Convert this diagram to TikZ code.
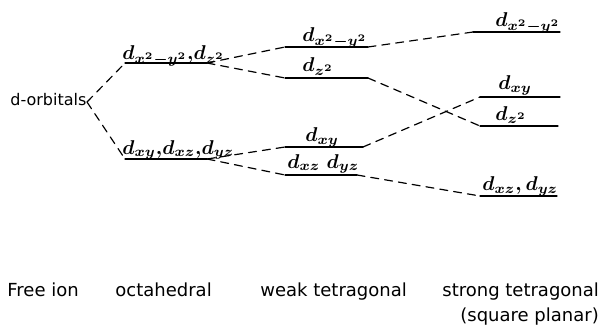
\documentclass[tikz,border=0pt]{standalone}
\usepackage{fontspec}
\setmainfont{DejaVu Sans}
\usetikzlibrary{positioning}
\newcommand{\orbd}[1]{d_{#1}}

\begin{document}
\begin{tikzpicture}[x=0.5pt,y=-0.5pt,line cap=round,line join=round,
  level/.style={line width=0.6pt},
  link/.style={line width=0.6pt,dash pattern=on 4pt off 3pt},
  orb/.style={anchor=base west,inner sep=0pt,font=\normalsize\boldmath},
  stage/.style={anchor=base west,inner sep=0pt,font=\fontsize{9}{11}\selectfont}]
  \useasboundingbox (0,0) rectangle (604,326);
  % free ion
  \node[stage,font=\fontsize{8}{10}\selectfont] (dorb) at (10,105) {d-orbitals};
  \coordinate (fan) at (87,102);
  % octahedral
  \coordinate (egL) at (125,63);   \coordinate (egR) at (207,63);
  \coordinate (tgL) at (125,159);  \coordinate (tgR) at (207,159);
  % weak tetragonal
  \coordinate (wxyL) at (285,47);  \coordinate (wxyR) at (368,47);
  \coordinate (wzL) at (285,78);   \coordinate (wzR) at (368,78);
  \coordinate (wdxyL) at (285,147); \coordinate (wdxyR) at (363,147);
  \coordinate (wxzL) at (285,175); \coordinate (wxzR) at (357,175);
  % strong tetragonal
  \coordinate (sxyL) at (473,32);  \coordinate (sxyR) at (560,32);
  \coordinate (sdxyL) at (480,97); \coordinate (sdxyR) at (560,97);
  \coordinate (szL) at (480,126);  \coordinate (szR) at (558,126);
  \coordinate (sxzL) at (480,196); \coordinate (sxzR) at (557,196);
  % levels
  \foreach \a/\b in {egL/egR,tgL/tgR,wxyL/wxyR,wzL/wzR,wdxyL/wdxyR,wxzL/wxzR,
                     sxyL/sxyR,sdxyL/sdxyR,szL/szR,sxzL/sxzR}
    \draw[level] (\a) -- (\b);
  % correlation lines
  \draw[link] (fan) -- (egL);
  \draw[link] (fan) -- (tgL);
  \draw[link] (egR) -- (wxyL);
  \draw[link] (egR) -- (wzL);
  \draw[link] (tgR) -- (wdxyL);
  \draw[link] (tgR) -- (wxzL);
  \draw[link] (wxyR) -- (sxyL);
  \draw[link] (wzR) -- (szL);
  \draw[link] (wdxyR) -- (sdxyL);
  \draw[link] (wxzR) -- (sxzL);
  % orbital labels
  \node[orb] (leg) at (122,60) {$\orbd{x^2-y^2}{,}\orbd{z^2}$};
  \node[orb] (ltg) at (122,154) {$\orbd{xy}{,}\orbd{xz}{,}\orbd{yz}$};
  \node[orb] (lwxy) at (302,42) {$\orbd{x^2-y^2}$};
  \node[orb] (lwz) at (302,72) {$\orbd{z^2}$};
  \node[orb] (lwdxy) at (305,141) {$\orbd{xy}$};
  \node[orb] (lwxz) at (287,168) {$\orbd{xz}\;\orbd{yz}$};
  \node[orb] (lsxy) at (495,27) {$\orbd{x^2-y^2}$};
  \node[orb] (lsdxy) at (498,90) {$\orbd{xy}$};
  \node[orb] (lsz) at (495,120) {$\orbd{z^2}$};
  \node[orb] (lsxz) at (482,190) {$\orbd{xz}{,}\,\orbd{yz}$};
  % stages
  \node[stage] (free) at (7,296) {Free ion};
  \node[stage] (oct) at (115,296) {octahedral};
  \node[stage] (weak) at (260,296) {weak tetragonal};
  \node[stage] (strong) at (442,296) {strong tetragonal};
  \node[stage] (sq) at (460,321) {(square planar)};
\end{tikzpicture}
\end{document}
